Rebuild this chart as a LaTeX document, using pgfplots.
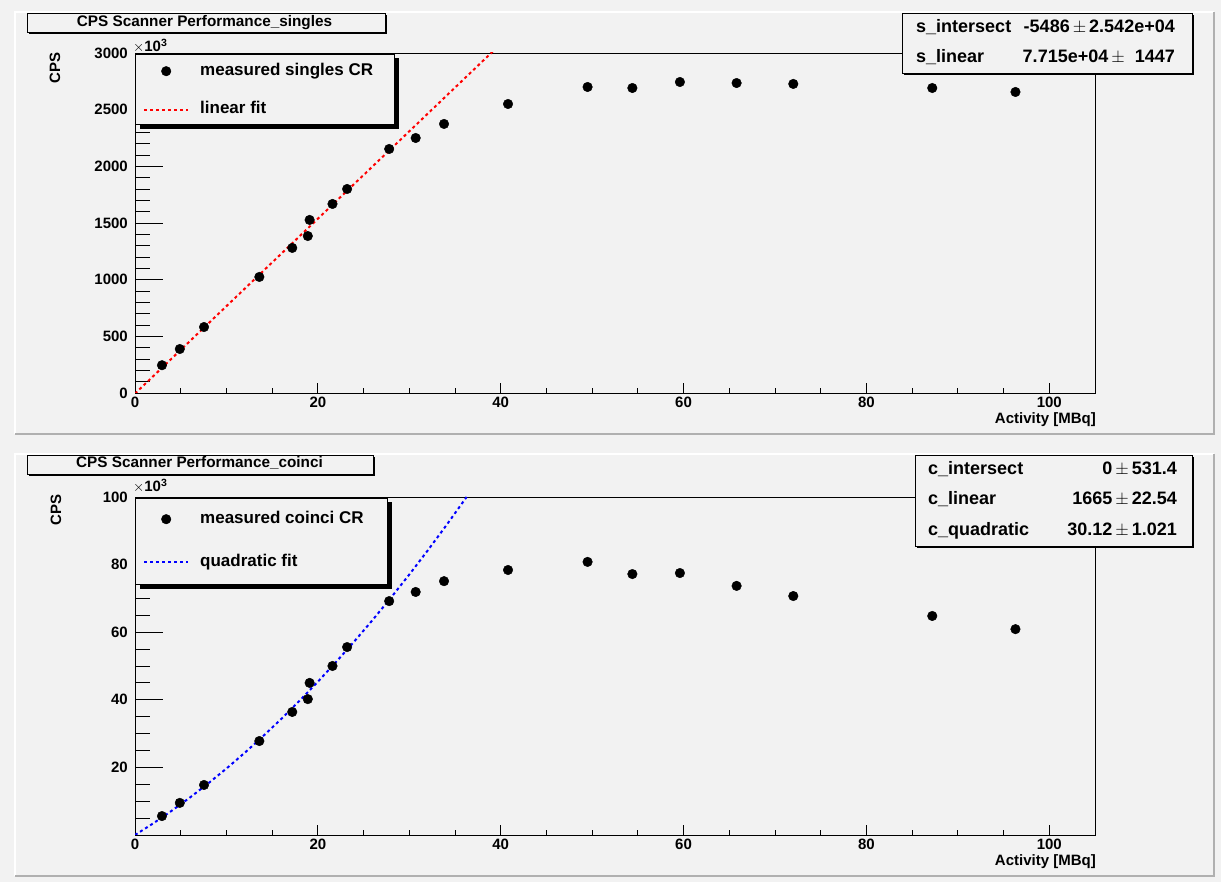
\documentclass[border=0pt]{standalone}
\usepackage{pgfplots}
\usepackage{pgfplotstable}
\pgfplotsset{compat=1.18}
\usepackage{fontspec}
\setmainfont{Liberation Sans}
\definecolor{bg}{HTML}{F2F2F2}
\definecolor{bevel}{HTML}{B0B0B0}
\newcommand{\fs}[1]{\fontsize{#1}{#1}\selectfont\bfseries}

\pgfplotstableread{
x singles coinci
2.95 245 5.6
4.9 388 9.5
7.55 582 14.8
13.6 1024 27.8
17.2 1280 36.4
18.9 1385 40.2
19.1 1527 45.0
21.6 1668 50.0
23.2 1800 55.6
27.8 2153 69.2
30.7 2250 71.9
33.8 2374 75.1
40.8 2550 78.4
49.5 2700 80.8
54.4 2691 77.2
59.6 2744 77.5
65.8 2735 73.7
72.0 2727 70.7
87.2 2691 64.8
96.3 2656 60.9
}\data

\pgfplotstableread{
x y
0 -5.486
40 3080.5
}\linfit

\pgfplotstableread{
x y
0 0
2 3.45
4 7.14
6 11.07
8 15.25
10 19.66
12 24.32
14 29.21
16 34.35
18 39.73
20 45.35
22 51.21
24 57.31
26 63.65
28 70.23
30 77.06
32 84.12
34 91.43
36 98.98
36.27 100.0
}\quadfit

\pgfplotsset{
  markleg/.style={legend image code/.code={\draw[mark repeat=2,mark phase=2,##1] plot coordinates {(0pt,0pt) (22pt,0pt) (44pt,0pt)};}},
  lineleg/.style={legend image code/.code={\draw[##1] (0pt,0pt) -- (44pt,0pt);}},
  rootax/.style={
    scale only axis, width=960pt,
    xmin=0, xmax=105,
    axis line style={black, line width=0.9pt},
    tick align=inside,
    xtick pos=left, ytick pos=left,
    xtick={0,20,...,100}, minor x tick num=3,
    tick style={black, line width=0.8pt},
    xtick style={/pgfplots/major tick length=10pt,/pgfplots/minor tick length=5pt},
    ytick style={/pgfplots/major tick length=28pt,/pgfplots/minor tick length=15pt},
    scaled ticks=false,
    /pgf/number format/assume math mode=true,
    /pgf/number format/1000 sep={},
    tick label style={font=\fs{15}},
    xticklabel style={inner sep=0pt, anchor=north, yshift=-4pt},
    yticklabel style={inner sep=0pt, anchor=east, xshift=-7pt},
    legend cell align=left,
    legend style={draw=none, fill=none, inner sep=0pt, column sep=11pt,
      font=\fs{17}, nodes={inner sep=0pt, text height=12pt, text depth=4pt},
      at={(axis description cs:0,1)}, anchor=north west},
  }
}

\begin{document}
\begin{tikzpicture}[x=1pt,y=1pt]
\useasboundingbox (0,0) rectangle (1221,882);
\fill[bg] (0,0) rectangle (1221,882);
% pads
\draw[white, line width=1.5pt] (15,448) -- (15,870) -- (1214,870);
\draw[bevel, line width=1.5pt] (15,448) -- (1214,448) -- (1214,870);
\draw[white, line width=1.5pt] (15,6) -- (15,428) -- (1214,428);
\draw[bevel, line width=1.5pt] (15,6) -- (1214,6) -- (1214,428);

% ---------- top axis ----------
\begin{axis}[rootax, at={(135pt,489pt)}, anchor=south west, height=340pt,
  ymin=0, ymax=3000, ytick={0,500,...,3000}, minor y tick num=4,
  legend style={xshift=8pt, yshift=-10pt, row sep=22.5pt}]
\addplot[only marks, mark=*, mark size=4.8pt, black, markleg]
  table[x=x,y=singles]{\data};
\addlegendentry{measured singles CR}
\addplot[red, line width=2pt, dash pattern=on 3pt off 3pt, lineleg]
  table[x=x,y=y]{\linfit};
\addlegendentry{linear fit}
\fill[black] ([xshift=5pt,yshift=-5pt]axis description cs:0,1) rectangle ([xshift=5pt,yshift=-5pt]axis description cs:0.2698,0.7912);
\filldraw[fill=bg, draw=black, line width=0.8pt] (axis description cs:0,0.997) rectangle (axis description cs:0.2698,0.7912);
\end{axis}

% ---------- bottom axis ----------
\begin{axis}[rootax, at={(135pt,47pt)}, anchor=south west, height=338pt,
  ymin=0, ymax=100, ytick={0,20,...,100}, yticklabels={,20,40,60,80,100}, minor y tick num=3,
  legend style={xshift=8pt, yshift=-14pt, row sep=27pt}]
\addplot[only marks, mark=*, mark size=4.8pt, black, markleg]
  table[x=x,y=coinci]{\data};
\addlegendentry{measured coinci CR}
\addplot[blue, line width=2pt, dash pattern=on 3pt off 3pt, lineleg]
  table[x=x,y=y]{\quadfit};
\addlegendentry{quadratic fit}
\fill[black] ([xshift=5pt,yshift=-5pt]axis description cs:0,1) rectangle ([xshift=5pt,yshift=-5pt]axis description cs:0.2625,0.7426);
\filldraw[fill=bg, draw=black, line width=0.8pt] (axis description cs:0,0.997) rectangle (axis description cs:0.2625,0.7426);
\end{axis}

% ---------- titles ----------
\fill[black] (29,848) rectangle (387,867);
\filldraw[fill=bg, draw=black, line width=0.8pt] (27,850) rectangle (385,869);
\node[anchor=base, inner sep=0pt] at (204.5,855) {\fs{15.3}CPS Scanner Performance\_singles};
\fill[black] (29,406) rectangle (375,425);
\filldraw[fill=bg, draw=black, line width=0.8pt] (27,408) rectangle (373,427);
\node[anchor=base, inner sep=0pt] at (199.5,414) {\fs{15.3}CPS Scanner Performance\_coinci};

% ---------- stats boxes ----------
\fill[black] (904,807) rectangle (1194,867);
\filldraw[fill=bg, draw=black, line width=0.8pt] (902,809) rectangle (1192,869);
\node[anchor=base west, inner sep=0pt] at (916,849) {\fs{18}s\_intersect};
\node[anchor=base west, inner sep=0pt] at (916,819) {\fs{18}s\_linear};
\node[anchor=base east, inner sep=0pt] at (1175,849) {\fs{18}-5486\,$\pm$\,2.542e+04};
\node[anchor=base east, inner sep=0pt] at (1175,819) {\fs{18}7.715e+04\,$\pm$\ \ 1447};

\fill[black] (917,334) rectangle (1194,425);
\filldraw[fill=bg, draw=black, line width=0.8pt] (915,336) rectangle (1192,427);
\node[anchor=base west, inner sep=0pt] at (928,407) {\fs{18}c\_intersect};
\node[anchor=base west, inner sep=0pt] at (928,377) {\fs{18}c\_linear};
\node[anchor=base west, inner sep=0pt] at (928,346) {\fs{18}c\_quadratic};
\node[anchor=base east, inner sep=0pt] at (1177,407) {\fs{18}0\,$\pm$\,531.4};
\node[anchor=base east, inner sep=0pt] at (1177,377) {\fs{18}1665\,$\pm$\,22.54};
\node[anchor=base east, inner sep=0pt] at (1177,346) {\fs{18}30.12\,$\pm$\,1.021};

% ---------- axis labels ----------
\node[rotate=90, inner sep=0pt] at (55,814) {\fs{15}CPS};
\node[rotate=90, inner sep=0pt] at (56,372) {\fs{15}CPS};
\node[anchor=base east, inner sep=0pt] at (1096,458) {\fs{15}Activity [MBq]};
\node[anchor=base east, inner sep=0pt] at (1096,16) {\fs{15}Activity [MBq]};
\node[anchor=base west, inner sep=0pt] at (133,830) {\fs{15}$\times$10\textsuperscript{3}};
\node[anchor=base west, inner sep=0pt] at (133,390) {\fs{15}$\times$10\textsuperscript{3}};
\end{tikzpicture}
\end{document}
